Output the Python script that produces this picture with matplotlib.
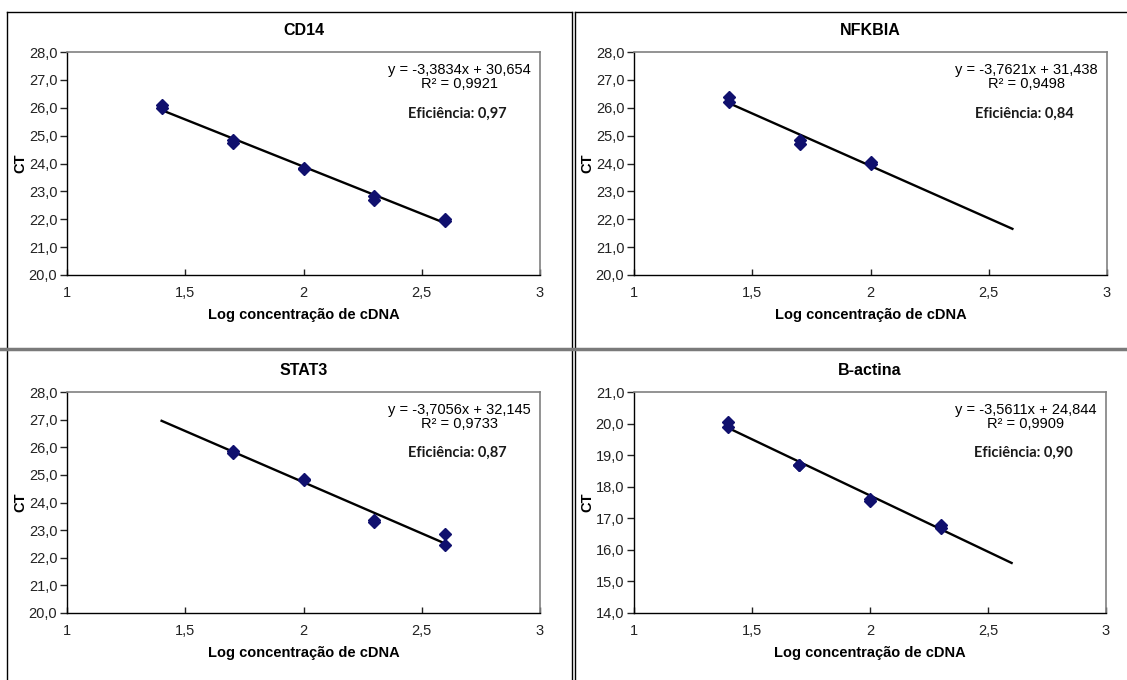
import numpy as np
import matplotlib
matplotlib.use("Agg")
import matplotlib.pyplot as plt
from matplotlib.lines import Line2D
from matplotlib.ticker import FuncFormatter, MultipleLocator

W, H = 1127, 680
plt.rcParams.update({
    "font.family": ["Liberation Sans", "DejaVu Sans"],
    "font.size": 10,
})

# ── data ────────────────────────────────────────────────────────────────
titles = ["CD14", "NFKBIA", "STAT3", "B-actina"]

cd14_x = [1.4, 1.4, 1.7, 1.7, 2.0, 2.0, 2.3, 2.3, 2.6, 2.6]
cd14_y = [26.1, 26.0, 24.85, 24.75, 23.85, 23.8, 22.85, 22.7, 22.0, 21.95]

nfkbia_x = [1.4, 1.4, 1.7, 1.7, 2.0, 2.0]
nfkbia_y = [26.4, 26.2, 24.85, 24.7, 24.05, 24.0]

stat3_x = [1.7, 1.7, 2.0, 2.0, 2.3, 2.3, 2.6, 2.6]
stat3_y = [25.85, 25.8, 24.85, 24.8, 23.35, 23.3, 22.85, 22.45]

bact_x = [1.4, 1.4, 1.7, 1.7, 2.0, 2.0, 2.3, 2.3]
bact_y = [20.05, 19.9, 18.7, 18.68, 17.6, 17.55, 16.8, 16.7]

slopes = [-3.3834, -3.7621, -3.7056, -3.5611]
intercepts = [30.654, 31.438, 32.145, 24.844]
r2 = ["0,9921", "0,9498", "0,9733", "0,9909"]
eff = ["0,97", "0,84", "0,87", "0,90"]
eq_text = ["y = -3,3834x + 30,654", "y = -3,7621x + 31,438",
           "y = -3,7056x + 32,145", "y = -3,5611x + 24,844"]
trend_x = [1.4, 2.6]

y_ranges = [(20, 28), (20, 28), (20, 28), (14, 21)]
xs = [cd14_x, nfkbia_x, stat3_x, bact_x]
ys = [cd14_y, nfkbia_y, stat3_y, bact_y]

# axes boxes in pixels: left, top, right, bottom
boxes = [(67, 52, 540, 275), (634, 52, 1107, 275),
         (67, 392, 540, 613), (634, 392, 1106, 613)]

MARKER = "#10106e"


def comma(v, pos):
    return f"{v:.1f}".replace(".", ",")


def xcomma(v, pos):
    return f"{v:g}".replace(".", ",")


fig = plt.figure(figsize=(W / 100, H / 100), dpi=100)
fig.patch.set_facecolor("white")


def fx(px):
    return px / W


def fy(py):
    return 1 - py / H


for i in range(4):
    l, t, r, b = boxes[i]
    ax = fig.add_axes([fx(l), fy(b), (r - l) / W, (b - t) / H])
    ax.plot(xs[i], ys[i], "D", color=MARKER, ms=6, zorder=3)
    tx = np.array(trend_x)
    ax.plot(tx, slopes[i] * tx + intercepts[i], color="black", lw=1.7, zorder=2)

    ax.set_xlim(1, 3)
    ax.set_ylim(*y_ranges[i])
    ax.xaxis.set_major_locator(MultipleLocator(0.5))
    ax.yaxis.set_major_locator(MultipleLocator(1))
    ax.xaxis.set_major_formatter(FuncFormatter(xcomma))
    ax.yaxis.set_major_formatter(FuncFormatter(comma))
    ax.tick_params(axis="y", direction="out", length=5, width=1, labelsize=10.5, pad=2, colors="#222222")
    ax.tick_params(axis="x", direction="in", length=4, width=1, labelsize=10.5, pad=8, colors="#222222")
    for s in ["left", "bottom"]:
        ax.spines[s].set_color("black")
        ax.spines[s].set_linewidth(1.0)
    for s in ["top", "right"]:
        ax.spines[s].set_color("#808080")
        ax.spines[s].set_linewidth(1.2)

    ax.set_xlabel("Log concentração de cDNA", fontsize=10.5, fontweight="bold", labelpad=6)
    ax.set_ylabel("CT", fontsize=10.5, fontweight="bold", labelpad=1)
    ax.set_title(titles[i], fontsize=11.5, fontweight="bold", pad=12)

    ax.text(0.83, 0.92, eq_text[i], transform=ax.transAxes, ha="center", va="center", fontsize=10.5)
    ax.text(0.83, 0.855, f"R² = {r2[i]}", transform=ax.transAxes, ha="center", va="center", fontsize=10.5)
    ax.text(0.825, 0.725, f"Eficiência: {eff[i]}", transform=ax.transAxes, ha="center", va="center",
            fontsize=10.5, fontweight="bold", family=["Lato", "DejaVu Sans"], color="#1a1a1a")

# ── panel frames ───────────────────────────────────────────────────────
def hline(y, x0, x1, **kw):
    fig.add_artist(Line2D([fx(x0), fx(x1)], [fy(y), fy(y)], **kw))


def vline(x, y0, y1, **kw):
    fig.add_artist(Line2D([fx(x), fx(x)], [fy(y0), fy(y1)], **kw))


hline(12, 7, 571.5, color="black", lw=1)
hline(12, 575, W, color="black", lw=1)
vline(7, 12, H, color="black", lw=1)
vline(571.5, 12, H, color="black", lw=1)
vline(575, 12, H, color="black", lw=1)
hline(349, 0, W, color="#7a7a7a", lw=2.5)

fig.savefig("out.png", dpi=100, facecolor="white")
